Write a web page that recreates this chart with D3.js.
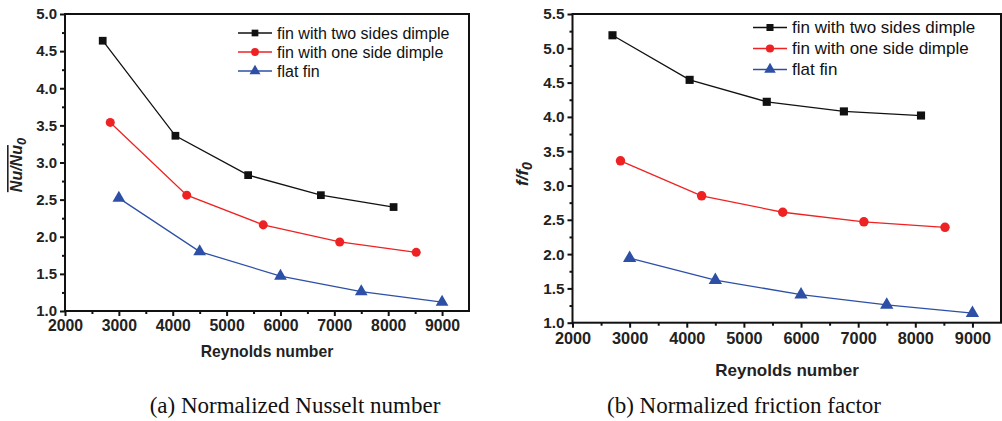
<!DOCTYPE html>
<html><head><meta charset="utf-8">
<script src="https://cdn.jsdelivr.net/npm/d3@7"></script>
<style>
html,body{margin:0;padding:0;background:#fff;}
svg{display:block;}
</style></head>
<body>
<svg id="chart" width="1002" height="421"></svg>
<script>
// ---- data ----
const seriesNames = ["fin with two sides dimple", "fin with one side dimple", "flat fin"];
const reynoldsTwoSides = [2700, 4050, 5400, 6750, 8100];
const reynoldsOneSide = [2840, 4260, 5680, 7100, 8520];
const reynoldsFlat = [3000, 4500, 6000, 7500, 9000];
const nuTwoSides = [4.64, 3.36, 2.83, 2.56, 2.40];
const nuOneSide = [3.54, 2.56, 2.16, 1.93, 1.79];
const nuFlat = [2.52, 1.80, 1.47, 1.26, 1.12];
const fTwoSides = [5.19, 4.54, 4.22, 4.08, 4.02];
const fOneSide = [3.36, 2.85, 2.61, 2.47, 2.39];
const fFlat = [1.94, 1.62, 1.41, 1.26, 1.14];
const xTicks = [2000, 3000, 4000, 5000, 6000, 7000, 8000, 9000];
const nuTicks = [1.0, 1.5, 2.0, 2.5, 3.0, 3.5, 4.0, 4.5, 5.0];
const fTicks = [1.0, 1.5, 2.0, 2.5, 3.0, 3.5, 4.0, 4.5, 5.0, 5.5];
const captions = ["(a) Normalized Nusselt number", "(b) Normalized friction factor"];
const xTitle = "Reynolds number";

const colors = ["#111111", "#ee2222", "#2d4fa5"];
const shapes = [d3.symbolSquare, d3.symbolCircle, d3.symbolTriangle];
const symSizes = [60, 64, 70];
const SANS = "'Liberation Sans', Arial, sans-serif";
const SERIF = "'Liberation Serif', 'Times New Roman', serif";

const svg = d3.select("#chart");

function panel(cfg) {
  const g = svg.append("g");
  const x = d3.scaleLinear().domain([2000, 9500]).range([cfg.x0, cfg.x1]);
  const y = d3.scaleLinear().domain(cfg.yDomain).range([cfg.y0, cfg.y1]);

  const xMinor = d3.range(2500, 9500, 1000);
  const yMinor = d3.range(cfg.yDomain[0] + 0.25, cfg.yDomain[1], 0.5);

  const xAxis = d3.axisBottom(x).tickValues(xTicks).tickFormat(d3.format("d")).tickSize(5).tickPadding(cfg.xPad);
  const xAxisMinor = d3.axisBottom(x).tickValues(xMinor).tickFormat("").tickSize(3);
  const yAxis = d3.axisLeft(y).tickValues(cfg.yTicks).tickFormat(d3.format(".1f")).tickSize(5).tickPadding(3);
  const yAxisMinor = d3.axisLeft(y).tickValues(yMinor).tickFormat("").tickSize(3);

  const gx = g.append("g").attr("transform", `translate(0,${cfg.y0})`).call(xAxis);
  g.append("g").attr("transform", `translate(0,${cfg.y0})`).call(xAxisMinor);
  const gy = g.append("g").attr("transform", `translate(${cfg.x0},0)`).call(yAxis);
  g.append("g").attr("transform", `translate(${cfg.x0},0)`).call(yAxisMinor);

  g.selectAll(".domain").remove();
  g.selectAll(".tick line").attr("stroke", "#111").attr("stroke-width", 2);
  gx.selectAll("text").attr("font-family", SANS).attr("font-weight", "bold")
    .attr("font-size", cfg.xFont).attr("fill", "#222");
  gy.selectAll("text").attr("font-family", SANS).attr("font-weight", "bold")
    .attr("font-size", cfg.yFont).attr("fill", "#222");

  // frame
  g.append("rect").attr("x", cfg.x0).attr("y", cfg.y1).attr("width", cfg.x1 - cfg.x0).attr("height", cfg.y0 - cfg.y1)
    .attr("fill", "none").attr("stroke", "#111").attr("stroke-width", 2);

  // series
  const line = d3.line().x(d => x(d[0])).y(d => y(d[1]));
  cfg.series.forEach((s, i) => {
    const pts = s.xs.map((v, k) => [v, s.ys[k]]);
    g.append("path").datum(pts).attr("d", line).attr("fill", "none")
      .attr("stroke", colors[i]).attr("stroke-width", 1.3);
    g.selectAll(null).data(pts).enter().append("path")
      .attr("d", d3.symbol().type(shapes[i]).size(symSizes[i] * cfg.scale))
      .attr("transform", d => `translate(${x(d[0])},${y(d[1])})`)
      .attr("fill", colors[i]);
  });

  // legend
  seriesNames.forEach((name, i) => {
    const ly = cfg.legY + i * cfg.legStep;
    g.append("line").attr("x1", cfg.legX).attr("x2", cfg.legX + 34).attr("y1", ly).attr("y2", ly)
      .attr("stroke", colors[i]).attr("stroke-width", 1.3);
    g.append("path").attr("d", d3.symbol().type(shapes[i]).size(symSizes[i] * 0.75 * cfg.scale))
      .attr("transform", `translate(${cfg.legX + 17},${ly})`).attr("fill", colors[i]);
    g.append("text").attr("x", cfg.legX + 39).attr("y", ly).attr("dy", "0.35em")
      .attr("font-family", SANS).attr("font-size", cfg.legFont)
      .attr("fill", "#111").text(name);
  });

  // x title
  g.append("text").attr("x", cfg.xTitleX).attr("y", cfg.xTitleY).attr("text-anchor", "middle")
    .attr("dy", "0.35em")
    .attr("font-family", SANS).attr("font-weight", "bold")
    .attr("font-size", cfg.xTitleFont).attr("fill", "#222").text(xTitle);

  // caption
  g.append("text").attr("x", cfg.capX).attr("y", cfg.capY).attr("text-anchor", "middle")
    .attr("dy", "0.35em")
    .attr("font-family", SERIF)
    .attr("font-size", 23).attr("fill", "#111").text(cfg.caption);
  return g;
}

panel({
  x0: 65, x1: 469, y0: 311, y1: 14, yDomain: [1, 5], yTicks: nuTicks,
  xFont: 15.8, yFont: 15, xPad: 4,
  series: [{xs: reynoldsTwoSides, ys: nuTwoSides}, {xs: reynoldsOneSide, ys: nuOneSide}, {xs: reynoldsFlat, ys: nuFlat}],
  legX: 238, legY: 33, legStep: 19, legFont: 16, scale: 1,
  xTitleX: 267, xTitleY: 352, xTitleFont: 15.7,
  capX: 295, capY: 405, caption: captions[0]
});

panel({
  x0: 572.5, x1: 1001, y0: 322.7, y1: 14, yDomain: [1, 5.5], yTicks: fTicks,
  xFont: 16.3, yFont: 15.3, xPad: 5,
  series: [{xs: reynoldsTwoSides, ys: fTwoSides}, {xs: reynoldsOneSide, ys: fOneSide}, {xs: reynoldsFlat, ys: fFlat}],
  legX: 753, legY: 27.5, legStep: 21, legFont: 17, scale: 1.1,
  xTitleX: 787, xTitleY: 370, xTitleFont: 17,
  capX: 744, capY: 405, caption: captions[1]
});

// y titles
const tA = svg.append("text").attr("transform", "translate(22,165) rotate(-90)")
  .attr("text-anchor", "middle")
  .attr("font-family", SANS).attr("font-weight", "bold")
  .attr("font-style", "italic").attr("font-size", 16).attr("fill", "#222");
tA.append("tspan").attr("text-decoration", "overline").text("Nu/Nu");
tA.append("tspan").attr("dy", 4).attr("font-size", 13).text("0");

const tB = svg.append("text").attr("transform", "translate(528,174) rotate(-90)")
  .attr("text-anchor", "middle")
  .attr("font-family", SANS).attr("font-weight", "bold")
  .attr("font-style", "italic").attr("font-size", 17).attr("fill", "#222");
tB.append("tspan").text("f/f");
tB.append("tspan").attr("dy", 4).attr("font-size", 14).text("0");
</script>
</body></html>
